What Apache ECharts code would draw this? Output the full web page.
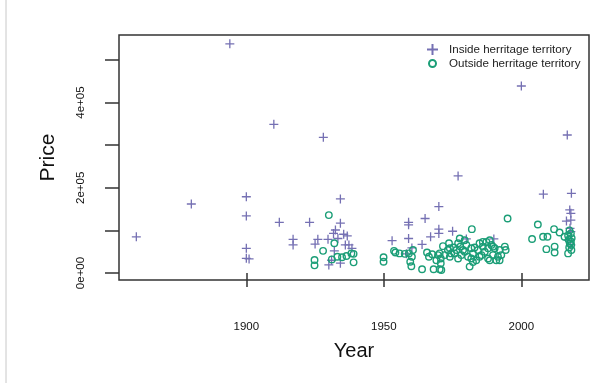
<!DOCTYPE html>
<html>
<head>
<meta charset="utf-8">
<script src="https://cdn.jsdelivr.net/npm/echarts@6/dist/echarts.min.js"></script>
<style>html,body{margin:0;padding:0;background:#fff;}#c{width:600px;height:383px;}</style>
</head>
<body>
<div id="c"></div>
<script>
const seriesNames = ['Inside herritage territory', 'Outside herritage territory'];
const xTicks = [1900, 1950, 2000];
const yTicks = [0, 100000, 200000, 300000, 400000, 500000];
const yLabelValues = [0, 200000, 400000];
const yLabelTexts = ['0e+00', '2e+05', '4e+05'];

const insideYear = [1860,1880,1894,1900,1900,1900,1900,1901,1910,1912,1917,1917,1923,1925,1926,1928,1929.7,1930,1931,1931.7,1932.4,1932,1933.3,1934.2,1934.2,1934.2,1935.4,1936.7,1936,1937.3,1938.4,1953,1958.2,1959,1959,1959,1960.2,1963.9,1965,1967,1970,1970,1970,1975,1977,1980,1990,2000,2008,2016.7,2018.2,2017.6,2018,2018,2016.4,2017.7,2018,2017,2018];
const insidePrice = [85000,162000,538000,179000,134000,58000,34500,33000,349000,119000,79000,66000,119000,68000,79000,318500,79000,19000,30000,93000,101000,52000,81000,174000,117000,23000,91000,87000,66000,66000,58000,76000,45000,119000,113000,81000,59000,67000,128000,85000,156000,103000,93000,98000,228000,80000,80000,439000,185000,324000,187000,148000,140000,124000,122000,105000,97000,77000,66000];

const outsideYear = [1924.8,1924.8,1927.9,1930,1931.1,1932,1933.1,1934.8,1936.4,1938.2,1939,1939,1949.9,1949.9,1953.7,1954.2,1955.7,1957.6,1959.1,1960.6,1960.2,1959.6,1960,1963.9,1965.7,1966.4,1967.6,1968.1,1970.3,1969.7,1970.7,1970.7,1969.1,
  1971.5,1973.7,1974,1975.4,1977,1977.8,1979.4,1980,1981.8,1983,1984.8,1986,1987.3,1988.5,1989.1,1990.3,1992.1,1992.7,1992.1,1970.3,1972.1,1974,1975.7,1977,1978.2,1979.4,1980.6,1982.4,1983.6,1985.5,1986.7,1987.9,1989.7,1990.9,1981.2,1982.4,1970.9,1976.4,1977.6,1978.8,1984.2,1986,1987.9,1989.7,1973.3,1974.5,1984.8,1988.5,1991.5,1981.8,
  1982,1995,1994,1994.3,2003.9,2006,2007.9,2009.5,2009.1,2011.9,2012.1,2012.1,2013.9,2015.7,2017,2018.2,2017.5,2018,2017,2018.3,2017.2,2018,2017.6,2018.1,2017.4];
const outsidePrice = [30500,18000,52000,136000,32000,70000,38000,37000,40000,46000,45000,25000,37000,26500,52000,48000,46000,45000,46000,54000,38000,26500,16000,9000,48000,38000,44000,9000,9000,42000,34000,23000,30000,
  63000,70000,58000,60000,70000,62000,77000,66000,58000,60000,70000,73000,73000,77000,66000,58000,54000,42000,30000,46000,42000,38000,46000,34000,42000,50000,38000,46000,30000,42000,50000,34000,42000,30000,15000,26000,7000,54000,81000,54000,54000,62000,58000,62000,54000,46000,38000,30000,38000,34000,
  103000,128000,62000,54000,80000,114000,85000,85000,56000,103000,62000,48000,95000,85000,46000,54000,100000,93000,88000,82000,78000,74000,70000,66000,60000];

const toPairs = (xs, ys) => xs.map((x, i) => [x, ys[i]]);

const plusPath = 'path://M0,5L10,5M5,0L5,10';
const circleIcon = 'path://M0,0M11,11M2,5.5A3.5,3.5,0,1,1,9,5.5A3.5,3.5,0,1,1,2,5.5Z';

const chart = echarts.init(document.getElementById('c'), null, {renderer: 'canvas'});
const font = 'Liberation Sans';
chart.setOption({
  animation: false,
  backgroundColor: '#fff',
  textStyle: {fontFamily: font},
  grid: {left: 119, top: 35, width: 470, height: 245, show: true, borderColor: '#333', borderWidth: 1.5, backgroundColor: 'transparent'},
  legend: {
    orient: 'vertical', left: 421, top: 38, itemWidth: 11, itemHeight: 11, itemGap: 1,
    textStyle: {fontFamily: font, fontSize: 11.6, color: '#222', padding: [0, 0, 0, 6]},
    data: [{name: seriesNames[0], icon: plusPath}, {name: seriesNames[1], icon: circleIcon}]
  },
  xAxis: {
    type: 'value', min: 1853.7, max: 2024.6,
    name: 'Year', nameLocation: 'middle', nameGap: 61,
    nameTextStyle: {fontFamily: font, fontSize: 20, color: '#111'},
    axisLine: {show: false},
    axisTick: {show: true, customValues: xTicks, length: 14, lineStyle: {color: '#333', width: 1.5}},
    axisLabel: {customValues: xTicks, margin: 41, fontSize: 11.5, color: '#111', fontFamily: font,
      formatter: v => String(v)},
    splitLine: {show: false}
  },
  yAxis: {
    type: 'value', min: -16400, max: 558700,
    name: 'Price', nameLocation: 'middle', nameGap: 60, nameRotate: 90,
    nameTextStyle: {fontFamily: font, fontSize: 21, color: '#111'},
    axisLine: {show: false},
    axisTick: {show: true, customValues: yTicks, length: 14, lineStyle: {color: '#333', width: 1.5}},
    axisLabel: {customValues: yLabelValues, rotate: 90, margin: 32, fontSize: 11.5, color: '#111', fontFamily: font,
      formatter: v => yLabelTexts[yLabelValues.indexOf(v)]},
    splitLine: {show: false}
  },
  series: [
    {
      name: seriesNames[0], type: 'scatter', data: toPairs(insideYear, insidePrice),
      symbol: plusPath, symbolSize: 9,
      itemStyle: {color: 'rgba(0,0,0,0)', borderColor: '#7570B3', borderWidth: 1.3, opacity: 1}
    },
    {
      name: seriesNames[1], type: 'scatter', data: toPairs(outsideYear, outsidePrice),
      symbol: 'circle', symbolSize: 6.5,
      itemStyle: {color: 'rgba(0,0,0,0)', borderColor: '#1B9E77', borderWidth: 1.4, opacity: 1}
    }
  ],
  graphic: [
    {type: 'line', shape: {x1: 6, y1: 0, x2: 6, y2: 383}, style: {stroke: '#c8c8c8', lineWidth: 1}}
  ]
});
</script>
</body>
</html>
